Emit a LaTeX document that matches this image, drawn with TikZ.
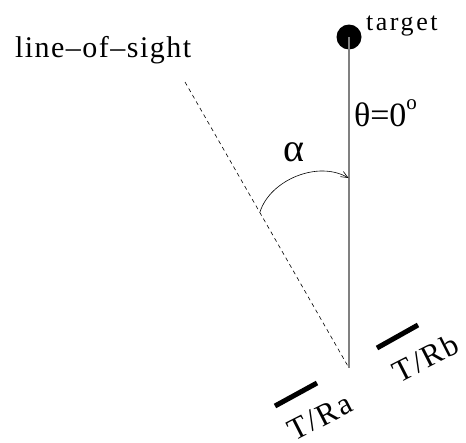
\documentclass[tikz,border=0pt]{standalone}
\usepackage{fontspec}
\setmainfont{Liberation Serif}
\usetikzlibrary{arrows.meta}
\newcommand{\fsz}[2]{\fontsize{#1}{#1}\selectfont\addfontfeature{LetterSpace=#2}}
\begin{document}
\begin{tikzpicture}[x=1pt,y=-1pt,
  lbl/.style={inner sep=0pt,outer sep=0pt,text=black},
  bar/.style={line width=5pt},
  losline/.style={dashed,dash pattern=on 4pt off 3.5pt,line width=0.6pt},
  axis/.style={draw=black!50,line width=1.5pt}]
\useasboundingbox (0,0) rectangle (466,442);
% target
\node[circle,fill=black,minimum size=25pt,inner sep=0pt] (dot) at (349,37) {};
\coordinate (bottom) at (349,368);
\coordinate (lostop) at (185,82);
\draw[axis] (dot.center) -- (bottom);
\draw[losline] (lostop) -- (bottom);
% angle arc
\coordinate (arcstart) at (260,212);
\coordinate (arcend) at (348.5,178);
\draw[line width=0.6pt,-{Straight Barb[length=7pt,width=6pt]}] (arcstart) .. controls (270,180) and (318,160) .. (arcend);
% texts
\node[lbl,anchor=base west,font=\fsz{30}{5}] (los) at (15,57) {line--of--sight};
\node[lbl,anchor=base west,font=\fsz{26}{10}] (tgt) at (366,30) {target};
\node[lbl,anchor=base west,font=\fsz{34}{0}] (theta) at (354,126) {θ=0\raisebox{0.5em}{\fontsize{21}{21}\selectfont o}};
\node[lbl,font=\fsz{40}{0}] (alpha) at (294,152) {α};
% transceivers
\coordinate (a1) at (275,406);
\coordinate (a2) at (317,383);
\coordinate (b1) at (377,348);
\coordinate (b2) at (418,325);
\draw[bar] (a1) -- (a2);
\draw[bar] (b1) -- (b2);
\node[lbl,rotate=27,font=\fsz{31}{6}] (tra) at (320,417) {T/Ra};
\node[lbl,rotate=27,font=\fsz{31}{6}] (trb) at (426,358) {T/Rb};
\end{tikzpicture}
\end{document}
